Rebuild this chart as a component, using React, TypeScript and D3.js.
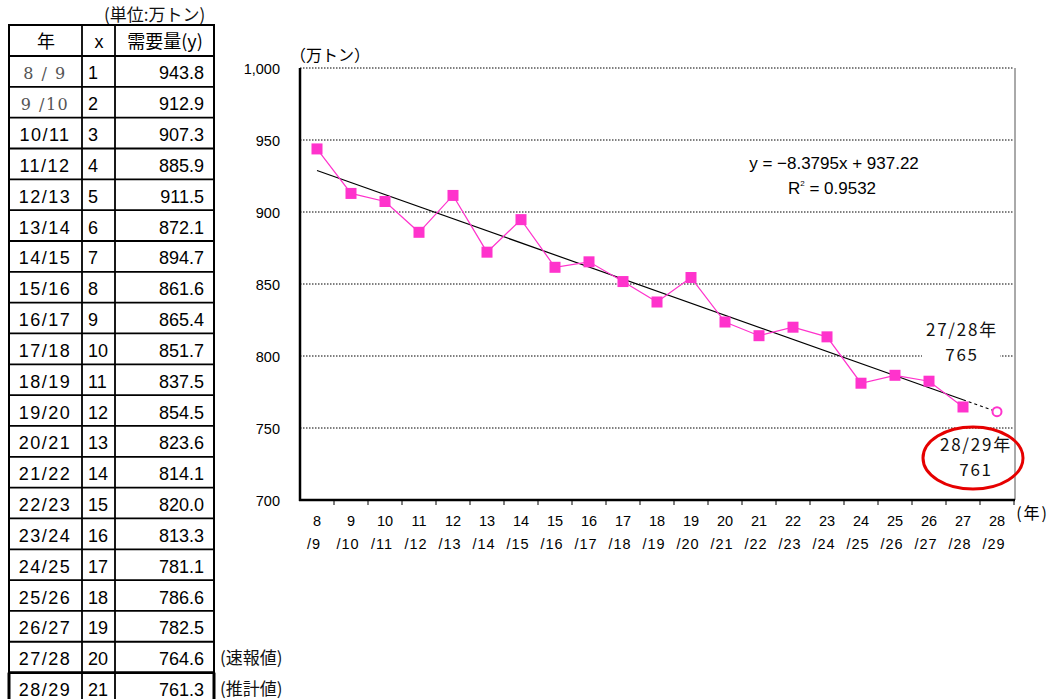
import React, { useEffect } from "react";
import * as d3 from "d3";

const years = ["8 / 9","9 /10","10/11","11/12","12/13","13/14","14/15","15/16","16/17","17/18","18/19","19/20","20/21","21/22","22/23","23/24","24/25","25/26","26/27","27/28","28/29"];
const xIdx = d3.range(1, 22);
const demand = [943.8,912.9,907.3,885.9,911.5,872.1,894.7,861.6,865.4,851.7,837.5,854.5,823.6,814.1,820.0,813.3,781.1,786.6,782.5,764.6,761.3];
const tickTop = ["8","9","10","11","12","13","14","15","16","17","18","19","20","21","22","23","24","25","26","27","28"];
const tickBottom = ["/9","/10","/11","/12","/13","/14","/15","/16","/17","/18","/19","/20","/21","/22","/23","/24","/25","/26","/27","/28","/29"];
const yTicks = [700, 750, 800, 850, 900, 950, 1000];
const slope = -8.3795;
const intercept = 937.22;
const notes = ["", "", "", "", "", "", "", "", "", "", "", "", "", "", "", "", "", "", "", "(速報値)", "(推計値)"];

const FONT = "'Liberation Sans', Arial, sans-serif";
const JP = "'Noto Sans CJK JP', sans-serif";

export default function App() {
  useEffect(() => {
    document.body.style.margin = "0";
  }, []);

  const x = d3.scaleBand<string>().domain(tickTop).range([300, 1014]);
  const y = d3.scaleLinear().domain([700, 1000]).range([500, 68]);
  const cx = (i: number) => (x(tickTop[i]) as number) + x.bandwidth() / 2;

  const line = d3.line<number>().x((_, i) => cx(i)).y((d) => y(d));
  const observed = demand.slice(0, 20);
  const trend = (xi: number) => slope * xi + intercept;

  // table geometry
  const tTop = 25;
  const hdrBottom = 56;
  const rowH = 30.83;
  const cols = [9, 82, 115, 214];

  return (
    <svg width={1051} height={699} style={{ display: "block", background: "#fff" }}>
      {/* ---------- Table ---------- */}
      <text x={104} y={21} textAnchor="start" fontFamily={JP} fontSize={17} fill="#111">(単位:万トン)</text>
      <g stroke="#000" fill="none">
        {d3.range(0, 22).map((r) => {
          const yy = r === 0 ? hdrBottom : hdrBottom + r * rowH;
          return <line key={"h" + r} x1={cols[0]} x2={cols[3]} y1={yy} y2={yy} strokeWidth={r === 20 ? 2.8 : 1.8} />;
        })}
        <line x1={cols[0] - 1} x2={cols[3] + 1} y1={tTop} y2={tTop} strokeWidth={2} />
        <line x1={cols[1]} x2={cols[1]} y1={tTop} y2={699} strokeWidth={1.8} />
        <line x1={cols[2]} x2={cols[2]} y1={tTop} y2={699} strokeWidth={1.8} />
        <line x1={cols[0]} x2={cols[0]} y1={tTop} y2={699} strokeWidth={2} />
        <line x1={cols[3]} x2={cols[3]} y1={tTop} y2={699} strokeWidth={2} />
        <line x1={cols[0]} x2={cols[0]} y1={hdrBottom + 20 * rowH} y2={699} strokeWidth={3} />
        <line x1={cols[3]} x2={cols[3]} y1={hdrBottom + 20 * rowH} y2={699} strokeWidth={3} />
      </g>
      <text x={46} y={48} textAnchor="middle" fontFamily={JP} fontSize={18} fill="#000">年</text>
      <text x={99} y={48} textAnchor="middle" fontFamily={FONT} fontSize={18} fill="#000">x</text>
      <text x={165} y={48} textAnchor="middle" fontFamily={JP} fontSize={18} fill="#000">需要量(y)</text>
      {years.map((yr, r) => {
        const cy = hdrBottom + (r + 0.5) * rowH + 8;
        const gray = r < 2;
        return (
          <g key={"r" + r}>
            <text x={45} y={cy} textAnchor="middle" fontFamily={gray ? "'DejaVu Serif', serif" : FONT} fontSize={gray ? 16 : 18} letterSpacing={1.5} fill={gray ? "#555" : "#000"}>{yr}</text>
            <text x={88} y={cy} textAnchor="start" fontFamily={FONT} fontSize={18} fill="#000">{xIdx[r]}</text>
            <text x={204} y={cy} textAnchor="end" fontFamily={FONT} fontSize={18} fill="#000">{demand[r].toFixed(1)}</text>
            {notes[r] && <text x={220} y={cy - 1} textAnchor="start" fontFamily={JP} fontSize={17} fill="#111">{notes[r]}</text>}
          </g>
        );
      })}

      {/* ---------- Chart ---------- */}
      <text x={290} y={61} fontFamily={JP} fontSize={16} fill="#000">（万トン）</text>
      {yTicks.map((t) => (
        <g key={"y" + t}>
          {t > 700 && (
            <line x1={300} x2={1014} y1={y(t)} y2={y(t)} stroke="#000" strokeWidth={1} strokeDasharray="1.5,1.5" />
          )}
          <text x={280} y={y(t) + 5.5} textAnchor="end" fontFamily={FONT} fontSize={14.5} fill="#000">{d3.format(",")(t)}</text>
        </g>
      ))}
      {/* right border */}
      <line x1={1015} x2={1015} y1={68} y2={500} stroke="#555" strokeWidth={1} />
      {/* axes */}
      <line x1={300} x2={300} y1={68} y2={501} stroke="#000" strokeWidth={2.5} />
      <line x1={299} x2={1015} y1={500} y2={500} stroke="#000" strokeWidth={2.5} />
      {tickTop.map((t, i) => (
        <line key={"tk" + i} x1={(x(t) as number) + x.bandwidth()} x2={(x(t) as number) + x.bandwidth()} y1={500} y2={505} stroke="#000" strokeWidth={1} />
      ))}
      {tickTop.map((t, i) => (
        <g key={"xl" + i}>
          <text x={cx(i)} y={526} textAnchor="middle" fontFamily={FONT} fontSize={14.5} fill="#000">{t}</text>
          <text x={cx(i) - 3} y={549} textAnchor="middle" fontFamily={FONT} fontSize={14.5} letterSpacing={1} fill="#000">{tickBottom[i]}</text>
        </g>
      ))}
      <text x={1049} y={519} textAnchor="end" fontFamily={JP} fontSize={16} letterSpacing={2} fill="#000">(年)</text>

      {/* trend line */}
      <line x1={cx(0)} y1={y(trend(1))} x2={cx(19)} y2={y(trend(20))} stroke="#000" strokeWidth={1.2} />
      <line x1={cx(19)} y1={y(trend(20))} x2={cx(20)} y2={y(trend(21))} stroke="#000" strokeWidth={1.2} strokeDasharray="3,3" />

      {/* data line */}
      <path d={line(observed) as string} fill="none" stroke="#FF33CC" strokeWidth={1.2} />
      {observed.map((d, i) => (
        <rect key={"m" + i} x={cx(i) - 5.5} y={y(d) - 5.5} width={11} height={11} fill="#FF33CC" />
      ))}
      <circle cx={cx(20)} cy={y(demand[20])} r={4.5} fill="#fff" stroke="#FF33CC" strokeWidth={2} />

      {/* equation */}
      <text x={834} y={169} textAnchor="middle" fontFamily={FONT} fontSize={17} fill="#000">y = −8.3795x + 937.22</text>
      <text x={832} y={194} textAnchor="middle" fontFamily={FONT} fontSize={17} fill="#000">
        R<tspan fontSize={8} dy={-8}>2</tspan><tspan dy={8}> = 0.9532</tspan>
      </text>

      {/* annotations */}
      <rect x={922} y={318} width={78} height={50} fill="#fff" />
      <text x={962} y={336} textAnchor="middle" fontFamily={JP} fontSize={17} letterSpacing={1.8} fill="#111">27/28年</text>
      <text x={962} y={361} textAnchor="middle" fontFamily={JP} fontSize={17} letterSpacing={1.8} fill="#111">765</text>
      <text x={976} y={451} textAnchor="middle" fontFamily={JP} fontSize={17} letterSpacing={1.8} fill="#111">28/29年</text>
      <text x={976} y={476} textAnchor="middle" fontFamily={JP} fontSize={17} letterSpacing={1.8} fill="#111">761</text>
      <ellipse cx={973} cy={458} rx={50} ry={31} fill="none" stroke="#E60000" strokeWidth={3} />
    </svg>
  );
}
